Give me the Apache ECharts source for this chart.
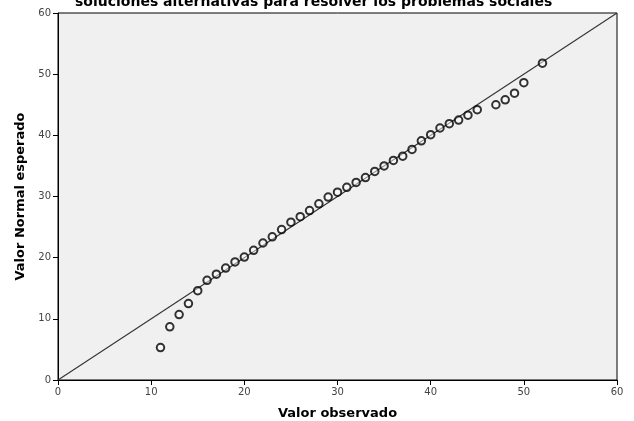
<!DOCTYPE html>
<html><head><meta charset="utf-8">
<script src="https://cdn.jsdelivr.net/npm/echarts@6/dist/echarts.min.js"></script>
<style>html,body{margin:0;padding:0;background:#fff}#c{width:634px;height:421px}</style>
</head><body><div id="c"></div>
<script>
const titleText = "soluciones alternativas para resolver los problemas sociales";
const observed = [11,12,13,14,15,16,17,18,19,20,21,22,23,24,25,26,27,28,29,30,31,32,33,34,35,36,37,38,39,40,41,42,43,44,45,47,48,49,50,52];
const expected = [5.3,8.7,10.7,12.5,14.6,16.3,17.3,18.3,19.3,20.1,21.2,22.4,23.4,24.6,25.8,26.7,27.7,28.8,29.9,30.7,31.5,32.3,33.1,34.1,35.0,35.9,36.6,37.7,39.1,40.1,41.2,41.9,42.5,43.3,44.2,45.0,45.8,46.9,48.6,51.8];
const refLine = [[0,0],[60,60]];

const chart = echarts.init(document.getElementById('c'));
const axisCommon = {
  min: 0, max: 60, interval: 10,
  axisLine: {show: true, lineStyle: {color: '#000', width: 1}},
  axisTick: {show: true, length: 5, inside: false, lineStyle: {color: '#000'}},
  splitLine: {show: false},
  axisLabel: {color: '#444', fontSize: 10, fontFamily: 'DejaVu Sans', margin: 7},
  nameTextStyle: {color: '#000', fontSize: 13, fontWeight: 'bold', fontFamily: 'DejaVu Sans'}
};
chart.setOption({
  animation: false,
  title: {text: titleText, left: 70, top: -10,
    textStyle: {fontSize: 14, fontWeight: 'bold', color: '#000', fontFamily: 'DejaVu Sans'}},
  grid: {left: 58, right: 17, top: 13, bottom: 41, show: true, backgroundColor: '#f0f0f0', borderColor: '#000', borderWidth: 1, containLabel: false, outerBoundsMode: 'none'},
  xAxis: Object.assign({}, axisCommon, {type: 'value', name: 'Valor observado', nameLocation: 'middle', nameGap: 27}),
  yAxis: Object.assign({}, axisCommon, {type: 'value', name: 'Valor Normal esperado', nameLocation: 'middle', nameGap: 30}),
  series: [
    {type: 'line', data: refLine, symbol: 'none', lineStyle: {color: '#333', width: 1.1}, silent: true, z: 1},
    {type: 'scatter', data: observed.map((x,i)=>[x, expected[i]]), symbol: 'circle', symbolSize: 7.5,
      itemStyle: {color: 'rgba(255,255,255,0.6)', borderColor: '#000', borderWidth: 2}, z: 2}
  ]
});
</script></body></html>
